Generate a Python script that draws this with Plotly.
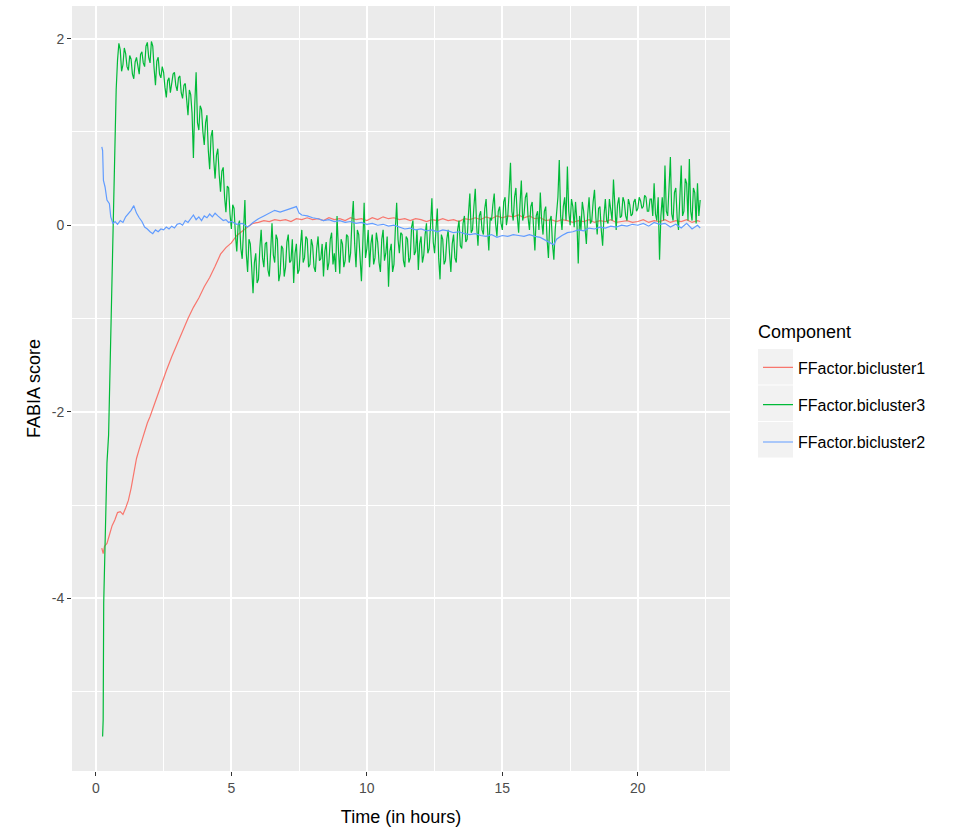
import numpy as np
import plotly.graph_objects as go

# ---------------- data ----------------
series_names = ["FFactor.bicluster1", "FFactor.bicluster3", "FFactor.bicluster2"]
series_colors = ["#F8766D", "#00BA38", "#619CFF"]

# FFactor.bicluster3 (green): initial rise, then 0.05 h samples from 0.9 h
green_rise_t = [0.25, 0.27, 0.29, 0.34, 0.41, 0.47, 0.53, 0.59, 0.62, 0.66, 0.70, 0.75, 0.80, 0.85]
green_rise_v = [-5.48, -5.30, -4.05, -3.32, -2.55, -2.25, -1.39, -0.80, -0.34, 0.40, 1.04, 1.45, 1.77, 1.95]
green_main_v = [
    1.88, 1.65, 1.72, 1.90, 1.84, 1.70, 1.66, 1.82, 1.78, 1.62, 1.57, 1.75, 1.80, 1.68, 1.62, 1.83, 1.86, 1.74, 1.70, 1.92,
    1.96, 1.80, 1.74, 1.97, 1.92, 1.68, 1.50, 1.76, 1.80, 1.62, 1.58, 1.70, 1.64, 1.48, 1.37, 1.55, 1.58, 1.42, 1.50, 1.62,
    1.64, 1.50, 1.44, 1.58, 1.60, 1.42, 1.36, 1.50, 1.52, 1.30, 1.18, 1.45, 1.40, 1.20, 0.72, 1.30, 1.64, 1.10, 1.02, 1.28,
    1.24, 1.00, 0.86, 1.10, 1.18, 0.80, 0.60, 0.95, 1.02, 0.70, 0.50, 0.75, 0.82, 0.55, 0.36, 0.58, 0.62, 0.30, 0.14, 0.42,
    0.40, 0.12, -0.04, 0.22, 0.18, -0.10, -0.28, 0.00, 0.05, -0.25, -0.36, -0.05, 0.27, -0.30, -0.50, -0.15, -0.20, -0.45, -0.73, -0.40,
    -0.30, -0.62, -0.58, -0.25, -0.05, -0.35, -0.45, -0.20, -0.18, -0.48, -0.55, -0.28, 0.02, -0.32, -0.40, -0.10, -0.15, -0.60, -0.52, -0.22,
    -0.25, -0.55, -0.45, -0.18, -0.10, -0.40, -0.38, -0.15, -0.62, -0.30, -0.20, -0.52, -0.48, -0.22, -0.05, -0.40, -0.35, -0.12, -0.15, -0.45,
    -0.42, -0.15, -0.22, -0.45, -0.50, -0.25, -0.12, -0.38, -0.36, -0.20, -0.55, -0.28, -0.18, -0.48, -0.40, -0.15, -0.08, -0.42, -0.30, -0.50,
    0.10, -0.25, -0.52, -0.15, -0.20, -0.45, -0.38, -0.10, -0.12, -0.40, -0.30, 0.05, 0.26, -0.20, -0.45, -0.05, -0.10, -0.35, -0.60, -0.20,
    0.24, -0.35, -0.25, -0.05, -0.45, -0.20, -0.10, -0.42, -0.35, -0.08, -0.18, -0.40, -0.50, -0.15, -0.05, -0.38, -0.30, -0.12, -0.66, -0.28,
    -0.20, -0.50, -0.42, -0.05, 0.24, -0.15, -0.30, -0.08, -0.10, -0.38, -0.45, -0.12, -0.15, -0.40, -0.35, -0.02, 0.05, -0.32, -0.28, -0.05,
    -0.48, -0.20, -0.12, -0.40, -0.32, -0.10, 0.02, -0.30, -0.25, 0.00, 0.29, -0.18, -0.30, -0.05, 0.18, -0.35, -0.58, -0.10, -0.15, -0.42,
    -0.38, -0.15, -0.05, -0.30, -0.50, -0.20, -0.10, -0.35, -0.40, -0.05, 0.05, -0.22, -0.25, 0.02, 0.10, -0.18, -0.15, 0.12, 0.34, -0.08,
    -0.05, 0.20, 0.39, 0.00, -0.22, 0.10, 0.15, -0.05, -0.10, 0.18, 0.28, -0.02, -0.27, 0.08, 0.05, 0.22, 0.34, 0.02, -0.12, 0.15,
    0.20, 0.02, -0.05, 0.25, 0.30, 0.00, 0.10, 0.35, 0.67, 0.15, 0.05, 0.30, 0.40, 0.10, -0.08, 0.22, 0.48, 0.05, 0.12, 0.30,
    0.35, 0.08, -0.05, 0.20, 0.25, -0.02, -0.27, 0.10, 0.15, -0.05, 0.35, 0.05, -0.10, 0.15, 0.20, -0.15, -0.35, 0.05, 0.10, -0.20,
    -0.37, -0.05, 0.15, 0.30, 0.70, 0.10, -0.05, 0.20, 0.30, 0.05, 0.63, 0.15, 0.00, 0.28, 0.20, -0.02, 0.25, 0.05, -0.41, 0.10,
    -0.05, 0.25, 0.15, -0.05, -0.20, 0.12, 0.30, 0.02, 0.05, 0.25, 0.38, 0.08, -0.10, 0.18, 0.20, -0.05, -0.22, 0.10, 0.28, 0.05,
    0.02, 0.28, 0.15, 0.05, 0.49, 0.12, -0.05, 0.22, 0.30, 0.08, 0.10, 0.30, 0.25, 0.10, 0.05, 0.28, 0.22, 0.10, 0.12, 0.25,
    0.28, 0.15, 0.18, 0.30, 0.26, 0.18, 0.20, 0.32, 0.30, 0.15, 0.15, 0.28, 0.28, 0.10, 0.45, 0.12, 0.05, 0.30, -0.37, 0.10,
    0.30, 0.05, 0.64, 0.15, 0.10, 0.40, 0.73, 0.12, 0.05, 0.35, 0.40, 0.08, -0.05, 0.30, 0.64, 0.10, 0.15, 0.50, 0.45, 0.05,
    0.71, 0.15, 0.05, 0.40, 0.35, 0.02, 0.45, 0.10, 0.27,
]
green_main_t = np.round(0.9 + 0.05 * np.arange(len(green_main_v)), 2)

# FFactor.bicluster2 (blue)
blue_t = [0.22, 0.25, 0.28, 0.34, 0.41, 0.50, 0.55, 0.63, 0.71, 0.8, 0.9, 1.0, 1.1, 1.2, 1.3, 1.4, 1.5,
          1.6, 1.7, 1.8, 1.9, 2.0, 2.1, 2.2, 2.3, 2.4, 2.5, 2.6, 2.7, 2.8, 2.9, 3.0, 3.1, 3.2, 3.3,
          3.4, 3.5, 3.6, 3.7, 3.8, 3.9, 4.0, 4.1, 4.2, 4.3, 4.4, 4.5, 4.6, 4.7, 4.8, 4.9, 5.0, 5.2,
          5.4, 5.6, 5.8, 6.0, 6.2, 6.4, 6.6, 6.8, 7.0, 7.2, 7.4, 7.5, 7.6, 7.8, 8.0, 8.2, 8.4, 8.6,
          8.8, 9.0, 9.2, 9.4, 9.6, 9.8, 10.0, 10.2, 10.4, 10.6, 10.8, 11.0, 11.2, 11.4, 11.6, 11.8,
          12.0, 12.2, 12.4, 12.6, 12.8, 13.0, 13.2, 13.4, 13.6, 13.8, 14.0, 14.2, 14.4, 14.6, 14.8,
          15.0, 15.2, 15.4, 15.6, 15.8, 16.0, 16.2, 16.4, 16.6, 16.8, 16.9, 17.0, 17.2, 17.4, 17.6,
          17.8, 18.0, 18.2, 18.4, 18.6, 18.8, 19.0, 19.2, 19.4, 19.6, 19.8, 20.0, 20.2, 20.4, 20.6,
          20.8, 21.0, 21.2, 21.4, 21.6, 21.8, 22.0, 22.2, 22.3]
blue_v = [0.84, 0.80, 0.48, 0.41, 0.27, 0.23, 0.09, 0.02, 0.04, 0.01, 0.05, 0.03, 0.09, 0.12, 0.16, 0.21, 0.13,
          0.08, 0.04, -0.02, -0.04, -0.07, -0.09, -0.05, -0.07, -0.04, -0.05, -0.02, -0.04, -0.01, -0.03, 0.01, 0.02, 0.00, 0.05,
          0.03, 0.07, 0.11, 0.06, 0.09, 0.05, 0.10, 0.08, 0.12, 0.09, 0.13, 0.10, 0.07, 0.05, 0.06, 0.03, 0.04, 0.01,
          0.02, -0.02, 0.03, 0.07, 0.10, 0.13, 0.16, 0.14, 0.16, 0.18, 0.20, 0.13, 0.11, 0.10, 0.08, 0.07, 0.05, 0.06,
          0.04, 0.05, 0.03, 0.04, 0.02, 0.03, 0.01, 0.02, 0.00, 0.01, -0.01, 0.00, -0.02, -0.04, -0.03, -0.05,
          -0.04, -0.06, -0.05, -0.07, -0.05, -0.06, -0.08, -0.07, -0.09, -0.10, -0.09, -0.11, -0.12, -0.10, -0.13,
          -0.11, -0.12, -0.10, -0.11, -0.12, -0.10, -0.12, -0.13, -0.16, -0.19, -0.21, -0.15, -0.11, -0.08, -0.07,
          -0.05, -0.06, -0.03, -0.04, -0.02, -0.03, -0.01, -0.02, 0.00, -0.01, 0.01, 0.00, 0.02, -0.01, 0.03,
          0.01, 0.02, -0.02, 0.01, -0.03, 0.02, -0.04, 0.00, -0.03]

# FFactor.bicluster1 (red)
red_t = [0.22, 0.27, 0.32, 0.41, 0.5, 0.6, 0.7, 0.8, 0.9, 1.0, 1.1, 1.2, 1.3, 1.4, 1.5, 1.6, 1.7, 1.8, 1.9,
         2.0, 2.2, 2.4, 2.6, 2.8, 3.0, 3.2, 3.4, 3.6, 3.8, 4.0, 4.2, 4.4, 4.6, 4.8, 5.0, 5.2, 5.4, 5.6,
         5.8, 6.0, 6.2, 6.4, 6.6, 6.8, 7.0, 7.2, 7.4, 7.6, 7.8, 8.0, 8.2, 8.4, 8.6, 8.8, 9.0, 9.2, 9.4,
         9.6, 9.8, 10.0, 10.2, 10.4, 10.6, 10.8, 11.0, 11.2, 11.4, 11.6, 11.8, 12.0, 12.2, 12.4, 12.6,
         12.8, 13.0, 13.2, 13.4, 13.6, 13.8, 14.0, 14.2, 14.4, 14.6, 14.8, 15.0, 15.2, 15.4, 15.6, 15.8,
         16.0, 16.2, 16.4, 16.6, 16.8, 17.0, 17.2, 17.4, 17.6, 17.8, 18.0, 18.2, 18.4, 18.6, 18.8, 19.0,
         19.2, 19.4, 19.6, 19.8, 20.0, 20.2, 20.4, 20.6, 20.8, 21.0, 21.2, 21.4, 21.6, 21.8, 22.0, 22.2, 22.3]
red_v = [-3.46, -3.52, -3.44, -3.41, -3.32, -3.22, -3.16, -3.08, -3.07, -3.10, -3.03, -2.95, -2.82, -2.66, -2.50, -2.40, -2.30, -2.22, -2.12,
         -2.05, -1.88, -1.72, -1.56, -1.41, -1.27, -1.13, -1.00, -0.88, -0.78, -0.66, -0.56, -0.44, -0.31, -0.24, -0.19, -0.11, -0.06, -0.02,
         0.02, 0.03, 0.05, 0.04, 0.06, 0.05, 0.06, 0.04, 0.07, 0.06, 0.08, 0.06, 0.07, 0.05, 0.08, 0.06, 0.07, 0.05, 0.08,
         0.06, 0.07, 0.05, 0.08, 0.06, 0.09, 0.07, 0.08, 0.06, 0.07, 0.05, 0.07, 0.06, 0.04, 0.06, 0.05,
         0.07, 0.05, 0.06, 0.04, 0.07, 0.06, 0.08, 0.06, 0.09, 0.07, 0.10, 0.08, 0.10, 0.09, 0.11, 0.08,
         0.10, 0.07, 0.08, 0.05, 0.06, 0.04, 0.06, 0.05, 0.03, 0.05, 0.04, 0.06, 0.03, 0.05, 0.04, 0.06,
         0.03, 0.04, 0.05, 0.03, 0.04, 0.06, 0.03, 0.05, 0.04, 0.06, 0.03, 0.05, 0.04, 0.06, 0.03, 0.05, 0.04]

x_ticks = [0, 5, 10, 15, 20]
x_tick_labels = ["0", "5", "10", "15", "20"]
y_ticks = [-4, -2, 0, 2]
y_tick_labels = ["-4", "-2", "0", "2"]
legend_title = "Component"

# ---------------- figure ----------------
W, H = 973, 835
ML, MR, MT, MB = 72, 243, 6, 64
PW, PH = W - ML - MR, H - MT - MB

def px_to_paper(x, y):
    return (x - ML) / PW, (H - MB - y) / PH

green_t = list(green_rise_t) + list(green_main_t)
green_v = list(green_rise_v) + list(green_main_v)

data = {
    "FFactor.bicluster1": (red_t, red_v),
    "FFactor.bicluster3": (green_t, green_v),
    "FFactor.bicluster2": (blue_t, blue_v),
}

fig = go.Figure()
for name, col in zip(series_names, series_colors):
    t, v = data[name]
    fig.add_trace(go.Scatter(x=t, y=v, mode="lines", name=name, legendgroup=name,
                             line=dict(color=col, width=1.2)))

font_family = "Liberation Sans, Arial, sans-serif"

# grey legend key boxes
shapes = []
for i in range(3):
    top = 349 + 36.5 * i
    x0, y0 = px_to_paper(758, top)
    x1, y1 = px_to_paper(793, top + 35.5)
    shapes.append(dict(type="rect", xref="paper", yref="paper", x0=x0, x1=x1, y0=y1, y1=y0,
                       fillcolor="#F2F2F2", line=dict(width=0), layer="below"))

tx, ty = px_to_paper(756, 332)
lx, ly = px_to_paper(758, 350.5)
fig.update_layout(
    width=W, height=H,
    margin=dict(l=ML, r=MR, t=MT, b=MB),
    paper_bgcolor="white", plot_bgcolor="#EBEBEB",
    font=dict(family=font_family, color="#000000"),
    showlegend=True,
    legend=dict(x=lx, y=ly, xanchor="left", yanchor="top", bgcolor="rgba(0,0,0,0)",
                font=dict(size=16, color="#000000"), traceorder="grouped", tracegroupgap=13.5,
                itemwidth=30),
    annotations=[dict(text=legend_title, xref="paper", yref="paper", x=tx, y=ty,
                      xanchor="left", yanchor="middle", showarrow=False,
                      font=dict(size=18, color="#000000"))],
    shapes=shapes,
    xaxis=dict(range=[-0.88, 23.4], tickvals=x_ticks, ticktext=x_tick_labels, ticks="outside",
               ticklen=4, tickwidth=1, tickcolor="#333333", tickfont=dict(size=14, color="#4D4D4D"),
               showgrid=True, gridcolor="white", gridwidth=1.6, zeroline=False, showline=False,
               minor=dict(dtick=2.5, tick0=0, showgrid=True, gridcolor="white", gridwidth=0.8, ticks=""),
               title=dict(text="Time (in hours)", font=dict(size=18, color="#000000"), standoff=15)),
    yaxis=dict(range=[-5.85, 2.35], tickvals=y_ticks, ticktext=y_tick_labels, ticks="outside",
               ticklen=4, tickwidth=1, tickcolor="#333333", tickfont=dict(size=14, color="#4D4D4D"),
               showgrid=True, gridcolor="white", gridwidth=1.6, zeroline=False, showline=False,
               minor=dict(dtick=1, tick0=0, showgrid=True, gridcolor="white", gridwidth=0.8, ticks=""),
               title=dict(text="FABIA score", font=dict(size=18, color="#000000"), standoff=6)),
)

fig.write_html("out.html", config={"displayModeBar": False},
               post_script="document.body.style.margin='0px';")
